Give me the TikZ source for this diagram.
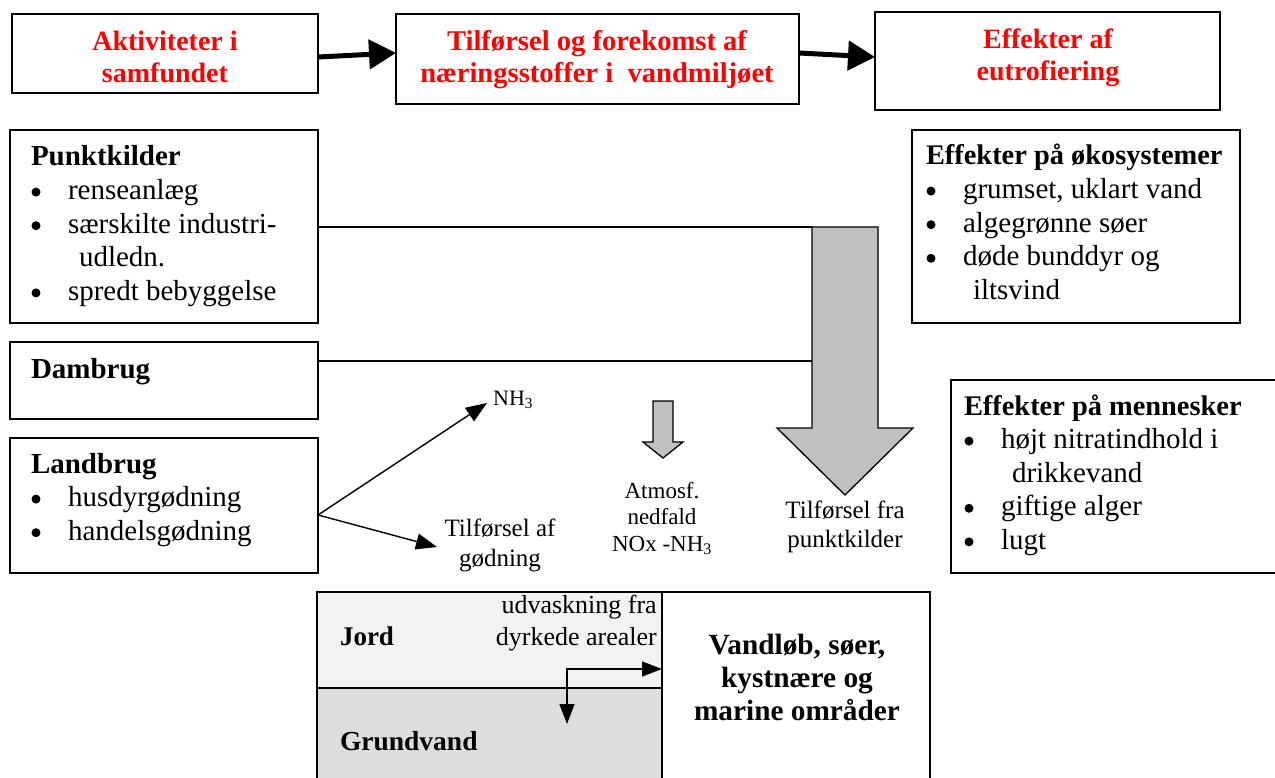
\documentclass[tikz,border=0pt]{standalone}
\usepackage{fontspec}
\setmainfont{Liberation Serif}
\usetikzlibrary{arrows.meta}
\definecolor{topred}{RGB}{255,0,0}
\definecolor{arrowgray}{RGB}{192,192,192}
\definecolor{jordgray}{RGB}{242,242,242}
\definecolor{grundgray}{RGB}{221,221,221}
\newcommand\bul[1]{\makebox[37pt][l]{\hspace*{0.5pt}\tikz[baseline=0pt]\fill (4.5pt,7.5pt) circle (4.5pt);}#1}
\newcommand\fsz[2]{\fontsize{#1}{#2}\selectfont}
\begin{document}
\begin{tikzpicture}[x=1pt,y=-1pt,
  box/.style={draw, line width=1.6pt, anchor=north west, inner sep=0pt, outer sep=0pt},
  ltxt/.style={inner sep=0pt, outer sep=0pt, anchor=base west, font=\fsz{29}{33.6}},
  ctxt/.style={inner sep=0pt, outer sep=0pt, anchor=base},
  toptxt/.style={ctxt, text=topred, font=\bfseries\fsz{28}{31.5}},
  bigarrow/.style={line width=5pt, -{Triangle[length=27pt,width=29pt]}},
  conn/.style={line width=1.4pt, -{Triangle[length=21pt,width=16pt]}},
  grayarrow/.style={draw, line width=1.3pt, fill=arrowgray, line join=miter}
]
\useasboundingbox (0,0) rectangle (1275,778);

% top row
\node[box, minimum width=306pt, minimum height=79pt] (akt) at (12,14) {};
\node[box, minimum width=403pt, minimum height=90pt] (tilf) at (396,14) {};
\node[box, minimum width=345pt, minimum height=98pt] (eff) at (875,12) {};
\node[toptxt] (aktt) at (165,51) {\begin{tabular}[t]{@{}c@{}}Aktiviteter i\\samfundet\end{tabular}};
\node[toptxt, font=\bfseries\fsz{28.6}{31.5}] (tilft) at (597,51) {\begin{tabular}[t]{@{}c@{}}Tilførsel og forekomst af\\næringsstoffer i\ \ vandmiljøet\end{tabular}};
\node[toptxt] (efft) at (1048,49) {\begin{tabular}[t]{@{}c@{}}Effekter af\\eutrofiering\end{tabular}};
\coordinate (a1s) at (318,57);
\coordinate (a1e) at (396,53);
\coordinate (a2s) at (799,53);
\coordinate (a2e) at (875,57);
\draw[bigarrow] (a1s) -- (a1e);
\draw[bigarrow] (a2s) -- (a2e);

% left boxes
\node[box, minimum width=308pt, minimum height=193pt] (pk) at (10,130) {};
\node[ltxt] (pkt) at (31,166) {\begin{tabular}[t]{@{}l@{}}\textbf{Punktkilder}\\ \bul{renseanlæg}\\ \bul{særskilte industri-}\\ \hspace*{48pt}udledn.\\ \bul{spredt bebyggelse}\end{tabular}};
\node[box, minimum width=308pt, minimum height=77pt] (dam) at (10,342) {};
\node[ltxt] (damt) at (31,378) {\textbf{Dambrug}};
\node[box, minimum width=308pt, minimum height=135pt] (land) at (10,438) {};
\node[ltxt] (landt) at (31,473) {\begin{tabular}[t]{@{}l@{}}\textbf{Landbrug}\\ \bul{husdyrgødning}\\ \bul{handelsgødning}\end{tabular}};

% right boxes
\node[box, minimum width=328pt, minimum height=193pt] (oko) at (912,130) {};
\node[ltxt] (okot) at (926,165) {\begin{tabular}[t]{@{}l@{}}\textbf{\fsz{28.4}{33.6}Effekter på økosystemer}\\ \bul{grumset, uklart vand}\\ \bul{algegrønne søer}\\ \bul{døde bunddyr og}\\ \hspace*{47pt}iltsvind\end{tabular}};
\node[box, minimum width=340pt, minimum height=193pt] (men) at (951,380) {};
\node[ltxt] (ment) at (964,415) {\begin{tabular}[t]{@{}l@{}}\textbf{\fsz{28.4}{33.6}Effekter på mennesker}\\ \bul{højt nitratindhold i}\\ \hspace*{48pt}drikkevand\\ \bul{giftige alger}\\ \bul{lugt}\end{tabular}};

% big gray arrow (point sources)
\draw[grayarrow] (812,227) -- (878,227) -- (878,428) -- (913,428) -- (845,495) -- (777,428) -- (812,428) -- cycle;
\coordinate (bigtop) at (812,227);
\draw[line width=1.4pt] (pk.east |- 0,227) -- (bigtop);
\draw[line width=1.4pt] (dam.east |- 0,361) -- (812,361);
\node[ctxt, font=\fsz{25}{29.5}] (pktl) at (845,518) {\begin{tabular}[t]{@{}c@{}}Tilførsel fra\\punktkilder\end{tabular}};

% small gray arrow (atmospheric)
\draw[grayarrow] (653,401) -- (673,401) -- (673,442) -- (683,442) -- (663,458) -- (643,442) -- (653,442) -- cycle;
\node[ctxt, font=\fsz{23}{26.5}] (atm) at (662,498) {\begin{tabular}[t]{@{}c@{}}Atmosf.\\nedfald\\NOx -NH\textsubscript{3}\end{tabular}};

% landbrug arrows
\coordinate (lfork) at (318,515);
\node[inner sep=0pt, anchor=base west, font=\fsz{22}{26}] (nh3) at (493,405) {NH\textsubscript{3}};
\node[ctxt, font=\fsz{25}{30}] (godn) at (500,536) {\begin{tabular}[t]{@{}c@{}}Tilførsel af\\gødning\end{tabular}};
\coordinate (nh3tip) at (487,403);
\coordinate (godtip) at (437,547);
\draw[conn] (lfork) -- (nh3tip);
\draw[conn] (lfork) -- (godtip);

% bottom
\node[box, fill=jordgray, minimum width=345pt, minimum height=96pt] (jord) at (317,592) {};
\node[box, fill=grundgray, minimum width=345pt, minimum height=110pt] (grund) at (317,688) {};
\node[box, minimum width=268pt, minimum height=206pt] (vand) at (662,592) {};
\node[ltxt, font=\bfseries\fsz{27}{32}] (jordt) at (340,645) {Jord};
\node[ltxt, font=\bfseries\fsz{27.5}{32}] (grundt) at (340,750) {Grundvand};
\node[inner sep=0pt, anchor=base east, font=\fsz{26}{32}] (udv) at (657,613) {\begin{tabular}[t]{@{}r@{}}udvaskning fra\\dyrkede arealer\end{tabular}};
\node[ctxt, font=\bfseries\fsz{29.3}{33}] (vandt) at (797,654) {\begin{tabular}[t]{@{}c@{}}Vandløb, søer,\\kystnære og\\marine områder\end{tabular}};
\coordinate (udvdown) at (567,724);
\draw[line width=1.4pt, {Triangle[length=20pt,width=15pt]}-{Triangle[length=20pt,width=15pt]}] (udvdown) |- (vand.west |- 0,669);
\end{tikzpicture}
\end{document}
